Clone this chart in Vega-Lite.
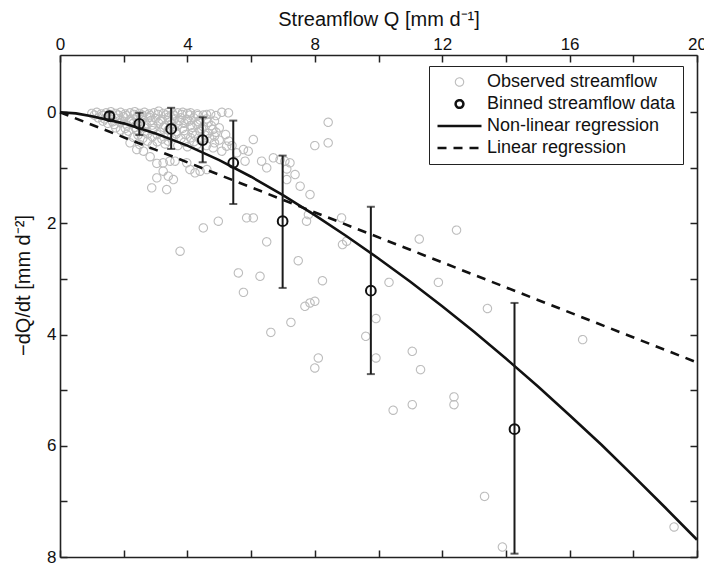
{
  "$schema": "https://vega.github.io/schema/vega-lite/v6.json",
  "width": 637,
  "height": 502,
  "autosize": {"type": "none"},
  "padding": {"left": 60, "top": 55, "right": 7, "bottom": 6},
  "background": "white",
  "datasets": {
    "obs": [
      {"q":1.0,"r":0.02},{"q":1.15,"r":0.0},{"q":1.3,"r":0.03},{"q":1.45,"r":0.01},{"q":1.6,"r":-0.01},{"q":1.75,"r":0.02},{"q":1.9,"r":0.0},{"q":2.05,"r":0.03},{"q":2.2,"r":0.01},{"q":2.35,"r":-0.01},{"q":2.5,"r":0.02},{"q":2.65,"r":0.0},{"q":2.8,"r":0.03},{"q":2.95,"r":0.01},{"q":3.1,"r":-0.02},{"q":3.25,"r":0.02},{"q":3.4,"r":0.0},{"q":3.55,"r":0.03},{"q":3.7,"r":0.01},{"q":3.85,"r":0.0},{"q":4.0,"r":0.02},{"q":4.1,"r":0.01},{"q":4.3,"r":0.03},{"q":4.5,"r":0.05},{"q":4.73,"r":0.03},{"q":4.9,"r":0.06},{"q":5.08,"r":0.0},{"q":5.29,"r":0.01},
      {"q":1.08,"r":0.05},{"q":1.33,"r":0.06},{"q":1.58,"r":0.04},{"q":1.83,"r":0.05},{"q":2.08,"r":0.06},{"q":2.33,"r":0.04},{"q":2.58,"r":0.05},{"q":2.83,"r":0.06},{"q":3.08,"r":0.04},{"q":3.33,"r":0.05},{"q":3.58,"r":0.06},{"q":3.83,"r":0.04},{"q":4.08,"r":0.05},{"q":4.33,"r":0.06},{"q":4.6,"r":0.04},
      {"q":1.2,"r":0.1},{"q":1.4,"r":0.12},{"q":1.6,"r":0.09},{"q":1.8,"r":0.11},{"q":2.0,"r":0.08},{"q":2.2,"r":0.13},{"q":2.4,"r":0.1},{"q":2.6,"r":0.12},{"q":2.8,"r":0.09},{"q":3.0,"r":0.11},{"q":3.2,"r":0.13},{"q":3.4,"r":0.09},{"q":3.6,"r":0.12},{"q":3.8,"r":0.1},{"q":4.0,"r":0.13},{"q":4.2,"r":0.1},{"q":4.4,"r":0.14},{"q":4.6,"r":0.12},{"q":4.85,"r":0.16},
      {"q":1.35,"r":0.16},{"q":1.65,"r":0.17},{"q":1.95,"r":0.15},{"q":2.25,"r":0.16},{"q":2.55,"r":0.17},{"q":2.85,"r":0.15},{"q":3.15,"r":0.16},{"q":3.45,"r":0.17},{"q":3.75,"r":0.15},{"q":4.05,"r":0.16},{"q":4.35,"r":0.17},{"q":4.65,"r":0.18},
      {"q":1.5,"r":0.2},{"q":1.7,"r":0.22},{"q":1.9,"r":0.19},{"q":2.1,"r":0.23},{"q":2.3,"r":0.2},{"q":2.5,"r":0.24},{"q":2.7,"r":0.21},{"q":2.9,"r":0.23},{"q":3.1,"r":0.2},{"q":3.3,"r":0.24},{"q":3.5,"r":0.21},{"q":3.7,"r":0.23},{"q":3.9,"r":0.2},{"q":4.1,"r":0.24},{"q":4.3,"r":0.22},{"q":4.5,"r":0.26},{"q":4.75,"r":0.24},{"q":5.0,"r":0.28},
      {"q":1.75,"r":0.28},{"q":2.05,"r":0.29},{"q":2.35,"r":0.27},{"q":2.65,"r":0.28},{"q":2.95,"r":0.29},{"q":3.25,"r":0.27},{"q":3.55,"r":0.28},{"q":3.85,"r":0.29},{"q":4.15,"r":0.27},{"q":4.45,"r":0.3},{"q":4.8,"r":0.31},
      {"q":1.9,"r":0.32},{"q":2.15,"r":0.34},{"q":2.4,"r":0.31},{"q":2.65,"r":0.35},{"q":2.9,"r":0.33},{"q":3.15,"r":0.36},{"q":3.4,"r":0.32},{"q":3.65,"r":0.35},{"q":3.9,"r":0.33},{"q":4.15,"r":0.37},{"q":4.4,"r":0.34},{"q":4.65,"r":0.38},{"q":4.9,"r":0.36},{"q":5.2,"r":0.4},
      {"q":2.1,"r":0.4},{"q":2.45,"r":0.41},{"q":2.75,"r":0.39},{"q":3.05,"r":0.4},{"q":3.35,"r":0.41},{"q":3.65,"r":0.39},{"q":3.95,"r":0.4},{"q":4.25,"r":0.42},{"q":4.55,"r":0.41},{"q":4.85,"r":0.43},
      {"q":2.3,"r":0.45},{"q":2.6,"r":0.47},{"q":2.9,"r":0.44},{"q":3.2,"r":0.48},{"q":3.5,"r":0.45},{"q":3.8,"r":0.47},{"q":4.1,"r":0.46},{"q":4.4,"r":0.49},{"q":4.7,"r":0.47},{"q":5.0,"r":0.5},{"q":5.3,"r":0.52},
      {"q":2.75,"r":0.52},{"q":3.05,"r":0.53},{"q":3.4,"r":0.52},{"q":3.9,"r":0.54},{"q":4.2,"r":0.53},{"q":4.85,"r":0.55},
      {"q":2.5,"r":0.58},{"q":2.9,"r":0.6},{"q":3.3,"r":0.57},{"q":3.7,"r":0.6},{"q":4.0,"r":0.62},{"q":4.3,"r":0.58},{"q":4.6,"r":0.6},{"q":5.4,"r":0.6},
      {"q":2.2,"r":0.55},{"q":2.41,"r":0.67},{"q":2.62,"r":0.7},{"q":2.83,"r":0.8},{"q":3.04,"r":0.92},{"q":3.24,"r":0.91},{"q":3.45,"r":0.88},{"q":3.61,"r":0.88},{"q":3.98,"r":0.91},{"q":4.08,"r":1.03},{"q":4.24,"r":1.09},{"q":4.4,"r":1.06},{"q":4.61,"r":1.03},{"q":3.24,"r":1.06},{"q":3.04,"r":1.18},{"q":2.88,"r":1.36},{"q":3.35,"r":1.39},{"q":3.56,"r":1.21},{"q":3.4,"r":1.15},
      {"q":4.81,"r":0.64},{"q":5.08,"r":0.7},{"q":5.23,"r":0.61},{"q":5.55,"r":0.73},{"q":5.76,"r":0.67},{"q":5.91,"r":0.7},{"q":6.07,"r":0.49},{"q":5.81,"r":0.88},{"q":6.33,"r":0.88},{"q":6.49,"r":1.0},{"q":6.7,"r":0.82},{"q":6.91,"r":0.85},{"q":7.06,"r":0.88},{"q":7.22,"r":0.91},{"q":7.38,"r":1.12},{"q":7.12,"r":1.21},{"q":7.12,"r":1.02},{"q":8.0,"r":0.6},{"q":8.42,"r":0.55},{"q":8.42,"r":0.18},{"q":7.85,"r":1.48},{"q":7.54,"r":1.33},{"q":7.8,"r":1.84},
      {"q":4.5,"r":2.08},{"q":4.97,"r":1.96},{"q":5.86,"r":1.9},{"q":6.07,"r":1.9},{"q":6.49,"r":2.33},{"q":7.48,"r":2.67},{"q":3.77,"r":2.5},{"q":5.6,"r":2.89},{"q":6.28,"r":2.95},{"q":5.76,"r":3.24},{"q":6.62,"r":3.96},{"q":7.25,"r":3.78},
      {"q":8.84,"r":1.9},{"q":7.74,"r":1.96},{"q":8.87,"r":2.38},{"q":9.0,"r":2.32},{"q":8.24,"r":3.03},{"q":7.69,"r":3.49},{"q":7.85,"r":3.43},{"q":8.0,"r":3.4},{"q":8.11,"r":4.42},{"q":8.0,"r":4.6},
      {"q":11.28,"r":2.28},{"q":12.45,"r":2.12},{"q":10.33,"r":3.06},{"q":11.88,"r":3.06},{"q":9.92,"r":3.71},{"q":9.6,"r":4.03},{"q":9.92,"r":4.42},{"q":11.06,"r":4.3},{"q":11.32,"r":4.63},{"q":13.42,"r":3.53},{"q":10.46,"r":5.36},{"q":11.06,"r":5.26},{"q":12.37,"r":5.12},{"q":12.37,"r":5.26},{"q":13.33,"r":6.91},{"q":13.89,"r":7.82},{"q":19.28,"r":7.46},{"q":16.41,"r":4.09}
    ],
    "bins": [
      {"q":1.55,"r":0.07,"lo":0.0,"hi":0.13},
      {"q":2.49,"r":0.21,"lo":0.01,"hi":0.41},
      {"q":3.49,"r":0.3,"lo":-0.08,"hi":0.66},
      {"q":4.48,"r":0.5,"lo":0.09,"hi":0.9},
      {"q":5.44,"r":0.91,"lo":0.15,"hi":1.65},
      {"q":6.99,"r":1.96,"lo":0.78,"hi":3.16},
      {"q":9.76,"r":3.21,"lo":1.7,"hi":4.71},
      {"q":14.27,"r":5.7,"lo":3.43,"hi":7.94}
    ],
    "nonlin": [
      {"q":0,"r":0},{"q":0.5,"r":0.02},{"q":1,"r":0.07},{"q":2,"r":0.2},{"q":3,"r":0.38},{"q":4,"r":0.6},{"q":5,"r":0.86},{"q":6,"r":1.16},{"q":7,"r":1.49},{"q":8,"r":1.85},{"q":9,"r":2.23},{"q":10,"r":2.63},{"q":11,"r":3.05},{"q":12,"r":3.49},{"q":13,"r":3.95},{"q":14,"r":4.43},{"q":15,"r":4.93},{"q":16,"r":5.45},{"q":17,"r":5.98},{"q":18,"r":6.54},{"q":19,"r":7.11},{"q":20,"r":7.69}
    ],
    "lin": [
      {"q":0,"r":0},{"q":20,"r":4.5}
    ]
  },
  "layer": [
    {
      "data": {"name": "obs"},
      "mark": {"type": "point", "filled": false, "opacity": 1},
      "encoding": {
        "x": {"field": "q", "type": "quantitative",
              "scale": {"domain": [0, 20], "nice": false, "zero": false},
              "axis": {"orient": "top", "title": "Streamflow Q [mm d⁻¹]",
                       "values": [0,2,4,6,8,10,12,14,16,18,20],
                       "labelExpr": "datum.value % 4 === 0 ? datum.label : ''",
                       "tickSize": -7, "labelPadding": 9, "titlePadding": 6, "titleFontSize": 20}},
        "y": {"field": "r", "type": "quantitative",
              "scale": {"domain": [-1.03, 8], "reverse": true, "nice": false, "zero": false},
              "axis": {"orient": "left", "title": "−dQ/dt [mm d⁻²]",
                       "values": [0,1,2,3,4,5,6,7,8],
                       "labelExpr": "datum.value % 2 === 0 ? datum.label : ''",
                       "tickSize": -7, "labelPadding": 11, "titlePadding": 13, "titleFontSize": 20, "titleY": 230}},
        "color": {"datum": "Observed streamflow", "type": "nominal",
                  "scale": {"domain": ["Observed streamflow", "Binned streamflow data", "Non-linear regression", "Linear regression"],
                            "range": ["#bdbdbd", "#111111", "#111111", "#111111"]}},
        "shape": {"datum": "Observed streamflow", "type": "nominal",
                  "scale": {"domain": ["Observed streamflow", "Binned streamflow data", "Non-linear regression", "Linear regression"],
                            "range": ["circle", "circle", "stroke", "stroke"]}},
        "size": {"datum": "Observed streamflow", "type": "nominal",
                 "scale": {"type": "ordinal", "domain": ["Observed streamflow", "Binned streamflow data", "Non-linear regression", "Linear regression"],
                           "range": [70, 60, 1936, 1936]}},
        "strokeWidth": {"datum": "Observed streamflow", "type": "nominal",
                 "scale": {"type": "ordinal", "domain": ["Observed streamflow", "Binned streamflow data", "Non-linear regression", "Linear regression"],
                           "range": [1.1, 2.5, 2.6, 2.6]}},
        "strokeDash": {"datum": "Observed streamflow", "type": "nominal",
                 "scale": {"domain": ["Observed streamflow", "Binned streamflow data", "Non-linear regression", "Linear regression"],
                           "range": [[1, 0], [1, 0], [1, 0], [9, 7]]}}
      }
    },
    {
      "data": {"name": "nonlin"},
      "mark": {"type": "line", "color": "#111111", "strokeWidth": 2.6},
      "encoding": {
        "x": {"field": "q", "type": "quantitative",
              "axis": {"orient": "bottom", "title": null, "labels": false,
                       "values": [0,2,4,6,8,10,12,14,16,18,20], "tickSize": -7}},
        "y": {"field": "r", "type": "quantitative",
              "axis": {"orient": "right", "title": null, "labels": false,
                       "values": [0,1,2,3,4,5,6,7,8], "tickSize": -7}}
      }
    },
    {
      "data": {"name": "lin"},
      "mark": {"type": "line", "color": "#111111", "strokeWidth": 2.6, "strokeDash": [9, 7]},
      "encoding": {
        "x": {"field": "q", "type": "quantitative", "axis": null},
        "y": {"field": "r", "type": "quantitative", "axis": null}
      }
    },
    {
      "data": {"name": "bins"},
      "mark": {"type": "rule", "color": "#1a1a1a", "strokeWidth": 2},
      "encoding": {
        "x": {"field": "q", "type": "quantitative", "axis": null},
        "y": {"field": "lo", "type": "quantitative", "axis": null},
        "y2": {"field": "hi"}
      }
    },
    {
      "data": {"name": "bins"},
      "mark": {"type": "tick", "orient": "horizontal", "color": "#1a1a1a", "size": 8, "thickness": 2},
      "encoding": {
        "x": {"field": "q", "type": "quantitative", "axis": null},
        "y": {"field": "lo", "type": "quantitative", "axis": null}
      }
    },
    {
      "data": {"name": "bins"},
      "mark": {"type": "tick", "orient": "horizontal", "color": "#1a1a1a", "size": 8, "thickness": 2},
      "encoding": {
        "x": {"field": "q", "type": "quantitative", "axis": null},
        "y": {"field": "hi", "type": "quantitative", "axis": null}
      }
    },
    {
      "data": {"name": "bins"},
      "mark": {"type": "point", "filled": false, "color": "#111111", "size": 95, "strokeWidth": 2, "opacity": 1},
      "encoding": {
        "x": {"field": "q", "type": "quantitative", "axis": null},
        "y": {"field": "r", "type": "quantitative", "axis": null}
      }
    }
  ],
  "config": {
    "view": {"stroke": null},
    "font": "Liberation Sans",
    "legend": {
      "title": null, "orient": "none", "legendX": 369, "legendY": 11,
      "padding": 7, "strokeColor": "#222222", "fillColor": "white",
      "labelFont": "Liberation Sans", "labelFontSize": 18, "labelColor": "#111111",
      "labelOffset": 4, "labelLimit": 400, "rowPadding": 4, "clipHeight": 18
    },
    "axis": {
      "grid": false,
      "labelFont": "Liberation Sans", "labelFontSize": 17, "labelColor": "#111111",
      "titleFont": "Liberation Sans", "titleFontSize": 18, "titleFontWeight": "normal", "titleColor": "#111111",
      "domainColor": "#222222", "domainWidth": 1.6, "tickColor": "#222222", "tickWidth": 1.5,
      "labelFlush": false, "labelOverlap": false
    }
  }
}
